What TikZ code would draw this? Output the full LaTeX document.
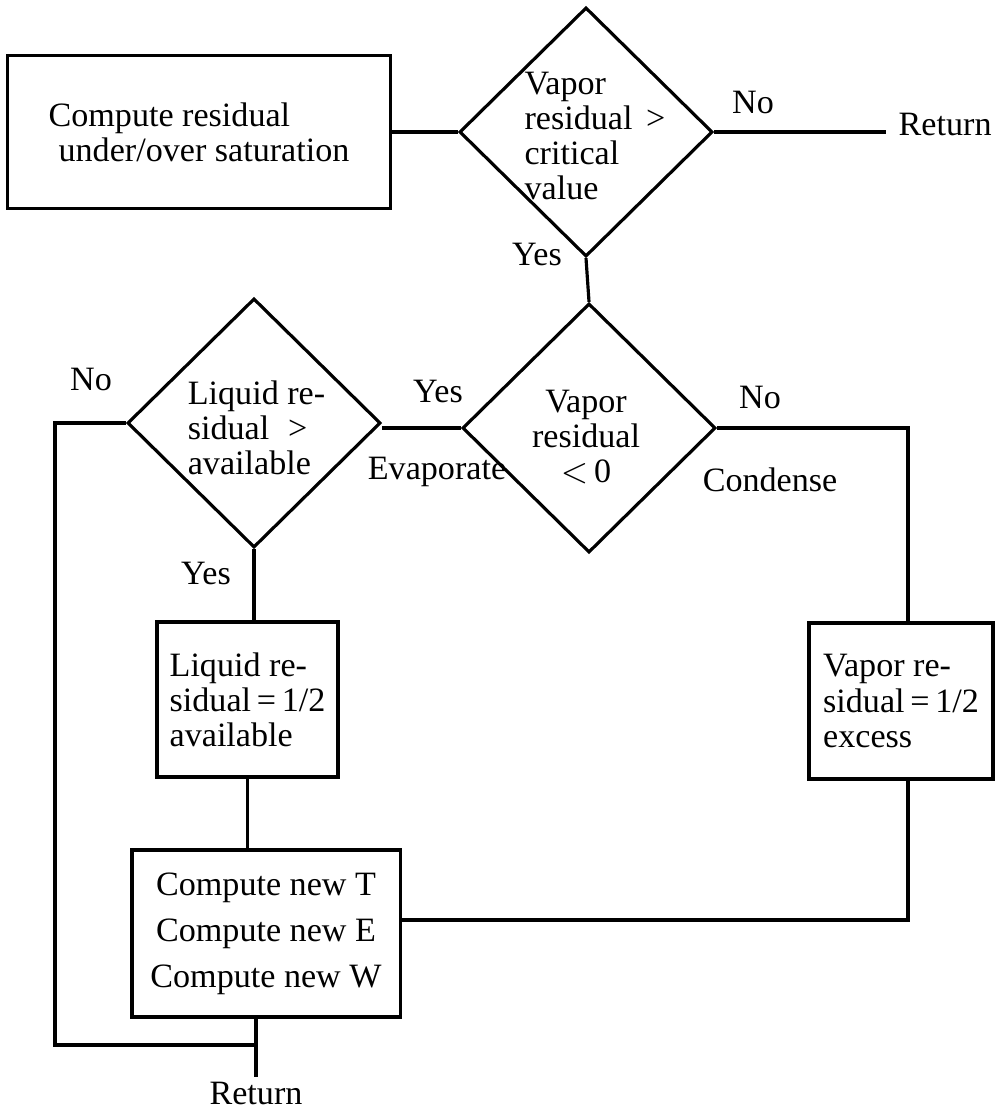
\documentclass[tikz,border=0pt]{standalone}
\usepackage{fontspec}
\setmainfont{Liberation Serif}
\usetikzlibrary{shapes.geometric}
\tikzset{
    decision/.style={draw, diamond, line width=0.9pt, inner sep=0pt, minimum width=2.53cm, minimum height=2.49cm},
    procbox/.style={draw, rectangle, line width=0.9pt, inner sep=0pt},
    flowline/.style={line width=0.9pt},
    txt/.style={inner sep=1pt}
}

\begin{document}
\begin{tikzpicture}[x=0.01cm, y=-0.01cm, font=\fontsize{9.7}{10}\selectfont]
            \useasboundingbox (0,0) rectangle (996,1107);
            % boxes and decisions
            \node[procbox, minimum width=3.82cm, minimum height=1.53cm, align=left] (resid)    at (199.0, 132.0) {Compute residual\\\hspace{0.1cm}under/over saturation};
            \node[decision, label={[align=left, xshift=0.09cm, yshift=-0.04cm]center:Vapor\\residual\hspace{0.4em}>\\critical\\value}] (vapcrit)  at (586.0, 132.0) {};
            \node[decision, label={[align=center, xshift=-0.03cm, yshift=-0.09cm]center:Vapor\\residual\\$<$\,0}]                    (vapneg)   at (589.0, 428.0) {};
            \node[decision, label={[align=left, xshift=0.025cm, yshift=-0.05cm]center:Liquid re-\\sidual\hspace{0.55em}>\\available}] (liqavail) at (254.0, 423.0) {};
            \node[procbox, minimum width=1.81cm, minimum height=1.55cm, align=left]   (liqhalf) at (247.5, 699.5) {Liquid re-\\sidual\,=\,1/2\\available};
            \node[procbox, minimum width=1.84cm, minimum height=1.56cm, align=left]   (vaphalf) at (901.0, 701.0) {Vapor re-\\sidual\,=\,1/2\\excess};
            \node[procbox, minimum width=2.68cm, minimum height=1.67cm, align=center,
                  font=\fontsize{9.7}{13.1}\selectfont]                               (newtew)  at (266.0, 933.5) {Compute new T\\Compute new E\\Compute new W};
            % ends
            \node[txt, inner xsep=0.12cm, anchor=base west] (ret1) at (886.0, 136.0) {Return};
            \node[txt]                                      (ret2) at (256.0,1093.0) {Return};
            \coordinate (loopturn) at (55.0, 1045.0);
            % branch labels
            \node[txt] (nocrit)  at (753.0, 103.0) {No};
            \node[txt] (yescrit) at (537.0, 255.0) {Yes};
            \node[txt] (yesneg)  at (438.0, 392.0) {Yes};
            \node[txt] (evap)    at (437.0, 472.0) {Evaporate};
            \node[txt] (noneg)   at (760.0, 398.0) {No};
            \node[txt] (cond)    at (770.0, 480.0) {Condense};
            \node[txt] (noliq)   at ( 91.0, 380.0) {No};
            \node[txt] (yesliq)  at (206.0, 573.0) {Yes};
            % connectors
            \draw[flowline] (resid.east) -- (vapcrit.west);
            \draw[flowline] (vapcrit.east) -- (vapcrit.east -| ret1.west);
            \draw[flowline] (vapcrit.south) -- (vapneg.north);
            \draw[flowline] (vapneg.west) -- (vapneg.west -| liqavail.east);
            \draw[flowline] (vapneg.east) -| ([xshift=0.07cm]vaphalf.north);
            \draw[flowline] ([xshift=0.07cm]vaphalf.south) |- ([yshift=0.135cm]newtew.east);
            \draw[flowline] (liqavail.south) -- (liqavail.south |- liqhalf.north);
            \draw[flowline] (liqhalf.south) -- (liqhalf.south |- newtew.north);
            \draw[flowline] (newtew.south -| ret2.north) -- (ret2.north);
            \draw[flowline] (liqavail.west) -| (loopturn) -- (loopturn -| ret2.north);
\end{tikzpicture}
\end{document}
